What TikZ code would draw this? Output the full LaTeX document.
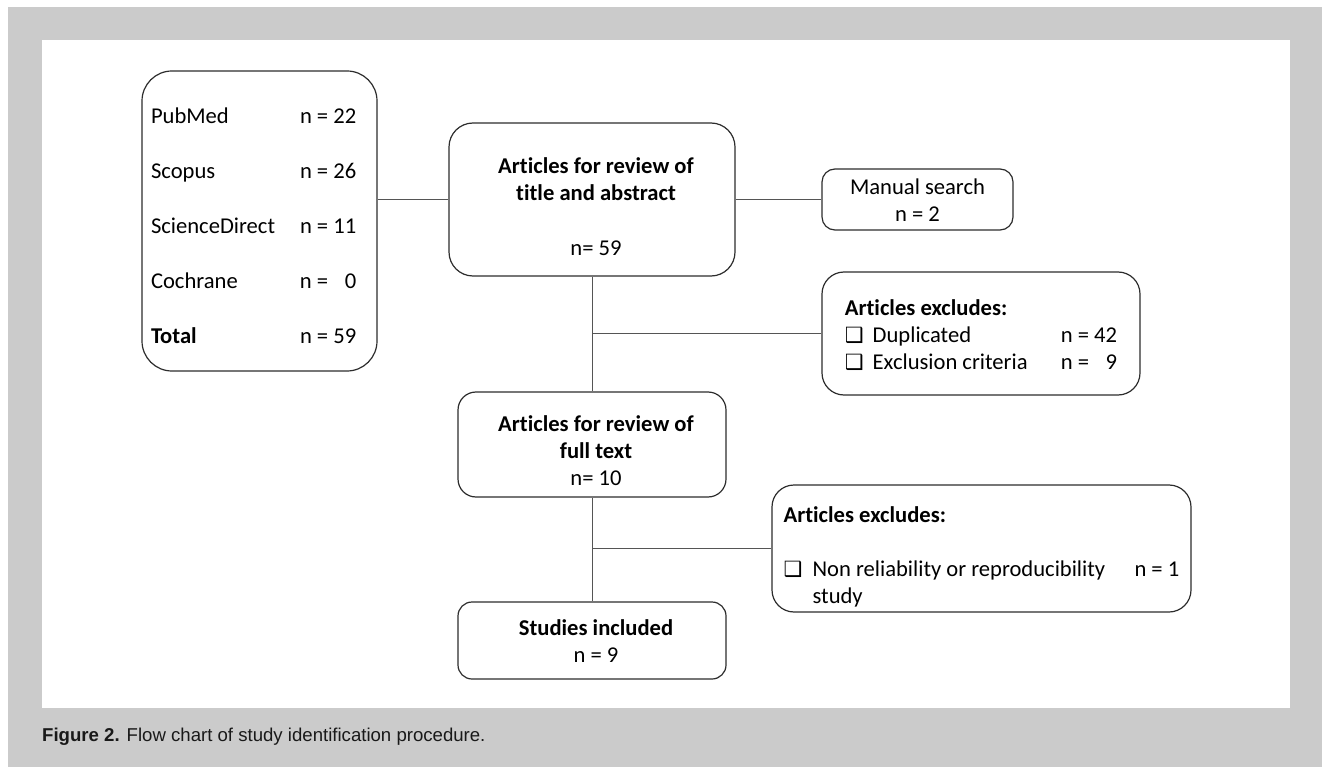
\documentclass[tikz,border=0pt]{standalone}
\usepackage{fontspec}
\setmainfont{Carlito}[Ligatures=NoCommon]
\newfontfamily\capfont{Liberation Sans}
\newfontfamily\symfont{DejaVu Sans}
\usetikzlibrary{positioning,calc}
\definecolor{pagegray}{RGB}{203,203,203}
\definecolor{boxline}{RGB}{45,45,45}
\definecolor{linkline}{RGB}{85,85,85}
\definecolor{captext}{RGB}{25,25,25}
\newcommand\chk{{\symfont\fontsize{21}{27}\selectfont ❑}}
\newcommand\pushdown[2]{\raisebox{0pt}[\dimexpr\height+#1\relax][\depth]{#2}}
\tikzset{
  flowbox/.style={draw=boxline, line width=1.2pt, rounded corners=#1, inner sep=0pt,
                  font=\fontsize{22.6}{27}\selectfont, text=black},
  flowbox/.default=20pt,
  link/.style={draw=linkline, line width=1pt},
  caption/.style={font=\capfont\fontsize{18.6}{22}\selectfont, text=captext,
                  anchor=base west, inner sep=0pt}
}
\begin{document}
\begin{tikzpicture}[x=1pt, y=-1pt]
\useasboundingbox (0,0) rectangle (1322,767);
\fill[white] (0,0) rectangle (1322,767);
\fill[pagegray] (8,7) rectangle (1322,767);
\fill[white] (42,40) rectangle (1290,708);
% boxes
\node[flowbox=30pt, minimum width=235pt, minimum height=300pt] (db) at (259.5,221) {\pushdown{15pt}{\begin{tabular}{@{}p{149pt}@{}p{68pt}@{}}
  PubMed & n = 22\\[28pt]
  Scopus & n = 26\\[28pt]
  ScienceDirect & n = 11\\[28pt]
  Cochrane & n = \phantom{0}0\\[28pt]
  \textbf{Total} & n = 59
\end{tabular}}};
\node[flowbox=24pt, minimum width=286pt, minimum height=153pt] (ta) at (592,199.5) {\pushdown{19pt}{\begin{tabular}{@{\hspace{8pt}}c@{}}
  \textbf{Articles for review of}\\ \textbf{title and abstract}\\[28pt] n= 59
\end{tabular}}};
\node[flowbox=13pt, minimum width=191pt, minimum height=61pt] (ms) at (917.5,199.5) {\pushdown{6pt}{\begin{tabular}{@{}c@{}}
  Manual search\\ n = 2
\end{tabular}}};
\node[flowbox=22pt, minimum width=318pt, minimum height=123pt] (ex1) at (981,333.5) {\pushdown{7pt}{\begin{tabular}{@{}p{216pt}@{}l@{}}
  \multicolumn{2}{@{}l@{}}{\textbf{Articles excludes:}}\\
  \chk\hspace{9pt}Duplicated & n = 42\\
  \chk\hspace{9pt}Exclusion criteria & n = \phantom{0}9
\end{tabular}}};
\node[flowbox=18pt, minimum width=268pt, minimum height=105pt] (ft) at (592,444.5) {\pushdown{18pt}{\begin{tabular}{@{\hspace{8pt}}c@{}}
  \textbf{Articles for review of}\\ \textbf{full text}\\ n= 10
\end{tabular}}};
\node[flowbox=22pt, minimum width=419pt, minimum height=127pt] (ex2) at (981.5,548.5) {\pushdown{19pt}{\begin{tabular}{@{}p{29pt}@{}p{322pt}@{}l@{}}
  \multicolumn{3}{@{}l@{}}{\textbf{Articles excludes:}}\\[27pt]
  \chk & Non reliability or reproducibility & n = 1\\
  & study &
\end{tabular}}};
\node[flowbox=14pt, minimum width=268pt, minimum height=77pt] (si) at (592,640.5) {\pushdown{6pt}{\begin{tabular}{@{\hspace{8pt}}c@{}}
  \textbf{Studies included}\\ n = 9
\end{tabular}}};
% connectors
\draw[link] (ta.west) -- (ta.west -| db.east);
\draw[link] (ta.east) -- (ms.west);
\draw[link] (ta.south) -- (ft.north);
\draw[link] (ta.south |- ex1.west) -- (ex1.west);
\draw[link] (ft.south) -- (si.north);
\draw[link] (ft.south |- ex2.west) -- (ex2.west);
% caption
\node[caption] (cap) at (42,741) {\textbf{Figure 2.}\hspace{7pt}Flow chart of study identification procedure.};
\end{tikzpicture}
\end{document}
